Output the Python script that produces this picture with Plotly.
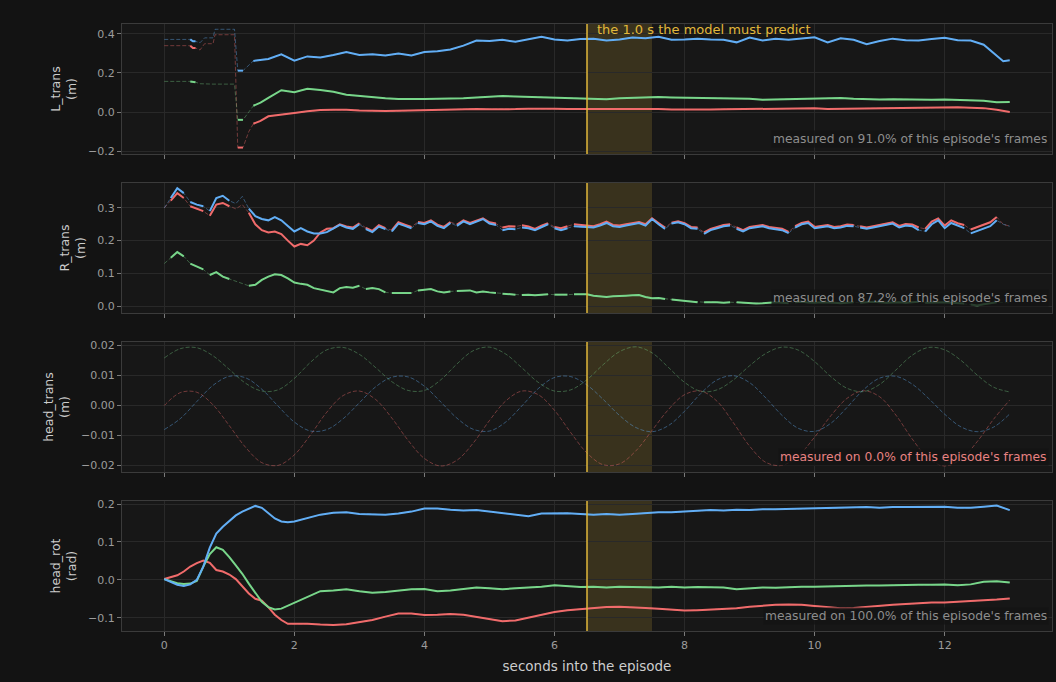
import plotly.graph_objects as go
from plotly.subplots import make_subplots

# ---------------- data ----------------
# Panel 1: L_trans (m)
T1 = [0.0, 0.40, 0.44, 0.48, 0.55, 0.62, 0.75, 0.78, 1.08, 1.13, 1.17, 1.21, 1.30, 1.37, 1.48,
      1.6, 1.8, 2.0, 2.2, 2.4, 2.6, 2.8, 3.0, 3.2, 3.4, 3.6, 3.8, 4.0, 4.2, 4.4, 4.6, 4.8,
      5.0, 5.2, 5.4, 5.6, 5.8, 6.0, 6.2, 6.4, 6.6, 6.8, 7.0, 7.2, 7.4, 7.6, 7.8, 8.0, 8.2,
      8.4, 8.6, 8.8, 9.0, 9.2, 9.4, 9.6, 9.8, 10.0, 10.2, 10.4, 10.6, 10.8, 11.0, 11.2,
      11.4, 11.6, 11.8, 12.0, 12.2, 12.4, 12.6, 12.8, 12.9, 13.0]
L_X = [0.34, 0.34, 0.328, 0.328, 0.318, 0.35, 0.35, 0.396, 0.396, -0.182, -0.182, -0.182, -0.10, -0.06, -0.045,
       -0.022, -0.012, -0.005, 0.004, 0.01, 0.012, 0.012, 0.008, 0.006, 0.005, 0.006, 0.008, 0.01, 0.012,
       0.015, 0.017, 0.016, 0.014, 0.013, 0.015, 0.017, 0.018, 0.017, 0.016, 0.017, 0.016, 0.015, 0.016,
       0.016, 0.017, 0.016, 0.013, 0.012, 0.012, 0.013, 0.014, 0.015, 0.016, 0.016, 0.017, 0.018, 0.018,
       0.019, 0.016, 0.017, 0.018, 0.019, 0.02, 0.02, 0.021, 0.022, 0.024, 0.026, 0.024, 0.022, 0.02,
       0.012, 0.006, 0.0]
L_Y = [0.157, 0.157, 0.153, 0.153, 0.145, 0.143, 0.143, 0.143, 0.143, -0.04, -0.04, -0.04, 0.0, 0.032, 0.048,
       0.072, 0.112, 0.102, 0.119, 0.113, 0.104, 0.089, 0.082, 0.074, 0.07, 0.067, 0.066, 0.067, 0.068,
       0.068, 0.07, 0.075, 0.078, 0.082, 0.08, 0.078, 0.075, 0.072, 0.07, 0.068, 0.068, 0.066, 0.07,
       0.072, 0.075, 0.077, 0.075, 0.074, 0.073, 0.072, 0.072, 0.072, 0.068, 0.063, 0.064, 0.066, 0.067,
       0.068, 0.071, 0.072, 0.068, 0.066, 0.064, 0.066, 0.064, 0.062, 0.063, 0.064, 0.062, 0.062, 0.058,
       0.05, 0.049, 0.051]
L_Z = [0.372, 0.372, 0.362, 0.362, 0.355, 0.38, 0.38, 0.424, 0.424, 0.212, 0.212, 0.212, 0.24, 0.262, 0.268,
       0.272, 0.296, 0.263, 0.285, 0.28, 0.292, 0.307, 0.292, 0.296, 0.29, 0.30, 0.29, 0.308, 0.312,
       0.32, 0.34, 0.366, 0.364, 0.37, 0.36, 0.372, 0.386, 0.372, 0.366, 0.374, 0.376, 0.366, 0.372,
       0.382, 0.378, 0.386, 0.37, 0.372, 0.376, 0.372, 0.37, 0.357, 0.382, 0.366, 0.376, 0.37, 0.378,
       0.383, 0.357, 0.378, 0.37, 0.347, 0.364, 0.376, 0.368, 0.366, 0.374, 0.38, 0.368, 0.366, 0.345,
       0.285, 0.26, 0.265]
L_GAPS = [(0.0, 0.40), (0.48, 1.13), (1.21, 1.37)]
L_PCT = 91.0

# Panel 2: R_trans (m), one frame every 0.1 s
T2 = [round(0.1 * i, 1) for i in range(131)]
R_X = [0.300, 0.322, 0.345, 0.330, 0.305, 0.297, 0.290, 0.276, 0.310, 0.315,
       0.305, 0.297, 0.310, 0.285, 0.250, 0.232, 0.225, 0.228, 0.220, 0.200,
       0.182, 0.190, 0.186, 0.200, 0.225, 0.236, 0.238, 0.250, 0.243, 0.240,
       0.253, 0.239, 0.230, 0.247, 0.238, 0.232, 0.256, 0.249, 0.242, 0.257,
       0.254, 0.262, 0.249, 0.242, 0.257, 0.249, 0.262, 0.254, 0.261, 0.268,
       0.256, 0.252, 0.240, 0.244, 0.243, 0.247, 0.243, 0.236, 0.246, 0.253,
       0.242, 0.238, 0.244, 0.250, 0.248, 0.246, 0.244, 0.250, 0.258, 0.248,
       0.246, 0.250, 0.254, 0.257, 0.250, 0.268, 0.254, 0.240, 0.255, 0.259,
       0.253, 0.242, 0.240, 0.225, 0.236, 0.242, 0.248, 0.250, 0.240, 0.232,
       0.242, 0.245, 0.248, 0.242, 0.238, 0.236, 0.227, 0.244, 0.254, 0.258,
       0.242, 0.245, 0.248, 0.242, 0.244, 0.249, 0.248, 0.244, 0.240, 0.244,
       0.248, 0.253, 0.256, 0.245, 0.251, 0.249, 0.240, 0.236, 0.258, 0.268,
       0.246, 0.262, 0.253, 0.248, 0.234, 0.242, 0.250, 0.256, 0.272, 0.250,
       0.244]
R_Y = [0.130, 0.148, 0.165, 0.152, 0.130, 0.120, 0.112, 0.095, 0.104, 0.090,
       0.083, 0.075, 0.068, 0.062, 0.065, 0.080, 0.090, 0.097, 0.095, 0.085,
       0.072, 0.068, 0.065, 0.055, 0.050, 0.046, 0.042, 0.055, 0.058, 0.056,
       0.062, 0.052, 0.055, 0.052, 0.042, 0.040, 0.040, 0.042, 0.040, 0.048,
       0.050, 0.052, 0.045, 0.042, 0.045, 0.046, 0.048, 0.048, 0.042, 0.045,
       0.042, 0.040, 0.038, 0.036, 0.035, 0.034, 0.035, 0.033, 0.034, 0.036,
       0.035, 0.034, 0.035, 0.036, 0.036, 0.036, 0.032, 0.030, 0.028, 0.030,
       0.030, 0.032, 0.033, 0.034, 0.028, 0.024, 0.025, 0.022, 0.020, 0.018,
       0.016, 0.014, 0.012, 0.012, 0.013, 0.012, 0.010, 0.012, 0.012, 0.010,
       0.009, 0.008, 0.009, 0.011, 0.012, 0.010, 0.009, 0.012, 0.013, 0.011,
       0.010, 0.012, 0.012, 0.010, 0.009, 0.011, 0.012, 0.010, 0.012, 0.013,
       0.012, 0.010, 0.011, 0.012, 0.010, 0.012, 0.013, 0.010, 0.011, 0.013,
       0.012, 0.010, 0.009, 0.008, 0.005, 0.002, 0.006, 0.010, 0.012, 0.011,
       0.010]
R_Z = [0.300, 0.330, 0.360, 0.345, 0.318, 0.310, 0.305, 0.290, 0.330, 0.337,
       0.322, 0.313, 0.335, 0.298, 0.275, 0.266, 0.262, 0.272, 0.262, 0.245,
       0.228, 0.238, 0.228, 0.222, 0.222, 0.226, 0.236, 0.248, 0.240, 0.236,
       0.250, 0.235, 0.226, 0.243, 0.235, 0.228, 0.252, 0.245, 0.238, 0.254,
       0.250, 0.259, 0.245, 0.238, 0.254, 0.245, 0.259, 0.250, 0.258, 0.266,
       0.252, 0.248, 0.232, 0.236, 0.235, 0.240, 0.238, 0.232, 0.242, 0.250,
       0.238, 0.232, 0.238, 0.244, 0.242, 0.242, 0.240, 0.246, 0.254, 0.244,
       0.242, 0.246, 0.250, 0.254, 0.246, 0.266, 0.250, 0.236, 0.252, 0.256,
       0.250, 0.238, 0.236, 0.221, 0.232, 0.238, 0.244, 0.246, 0.236, 0.228,
       0.238, 0.241, 0.244, 0.238, 0.234, 0.232, 0.223, 0.240, 0.250, 0.254,
       0.238, 0.241, 0.244, 0.238, 0.240, 0.245, 0.244, 0.240, 0.236, 0.240,
       0.244, 0.249, 0.252, 0.240, 0.246, 0.244, 0.232, 0.228, 0.250, 0.262,
       0.238, 0.254, 0.245, 0.238, 0.222, 0.230, 0.238, 0.244, 0.262, 0.250,
       0.244]
R_GAP_STARTS = [0.0, 0.3, 0.6, 1.0, 1.1, 1.2, 3.0, 3.4, 3.8, 4.4, 5.1, 5.4, 5.9, 6.2,
                7.7, 8.2, 8.7, 9.6, 10.6, 11.6, 12.3, 12.8, 12.9]
R_PCT = 87.2

# Panel 3: head_trans (m), never measured
T3 = [round(0.25 * i, 2) for i in range(53)]
H_X = [-0.0001, 0.0042, 0.0043, 0.0001, -0.0068, -0.0140, -0.0191, -0.0200, -0.0165, -0.0098,
       -0.0023, 0.0032, 0.0047, 0.0019, -0.0043, -0.0117, -0.0177, -0.0202, -0.0183, -0.0126,
       -0.0051, 0.0014, 0.0047, 0.0035, -0.0017, -0.0091, -0.0159, -0.0198, -0.0195, -0.0152,
       -0.0084, -0.0015, 0.0035, 0.0047, 0.0013, -0.0058, -0.0136, -0.0190, -0.0200, -0.0168,
       -0.0106, -0.0035, 0.0023, 0.0048, 0.0028, -0.0033, -0.0112, -0.0177, -0.0202, -0.0180,
       -0.0121, -0.0047, 0.0017]
H_Y = [0.0157, 0.0188, 0.0191, 0.0164, 0.0119, 0.0073, 0.0047, 0.0051, 0.0089, 0.0143,
       0.0184, 0.0192, 0.0169, 0.0125, 0.0078, 0.0049, 0.0049, 0.0084, 0.0137, 0.0181,
       0.0193, 0.0170, 0.0124, 0.0076, 0.0047, 0.0051, 0.0085, 0.0135, 0.0178, 0.0194,
       0.0174, 0.0126, 0.0076, 0.0046, 0.0051, 0.0084, 0.0131, 0.0172, 0.0193, 0.0183,
       0.0145, 0.0095, 0.0056, 0.0045, 0.0069, 0.0117, 0.0166, 0.0192, 0.0184, 0.0149,
       0.0100, 0.0060, 0.0044]
H_Z = [-0.0081, -0.0044, 0.0012, 0.0066, 0.0096, 0.0091, 0.0053, -0.0003, -0.0056, -0.0086,
       -0.0081, -0.0045, 0.0008, 0.0061, 0.0093, 0.0094, 0.0063, 0.0011, -0.0043, -0.0080,
       -0.0086, -0.0056, -0.0002, 0.0055, 0.0092, 0.0095, 0.0067, 0.0019, -0.0034, -0.0074,
       -0.0088, -0.0068, -0.0020, 0.0039, 0.0084, 0.0098, 0.0075, 0.0024, -0.0034, -0.0077,
       -0.0087, -0.0060, -0.0007, 0.0051, 0.0090, 0.0096, 0.0070, 0.0023, -0.0030, -0.0072,
       -0.0088, -0.0073, -0.0029]
H_GAPS = [(0.0, 13.0)]
H_PCT = 0.0

# Panel 4: head_rot (rad)
T4 = [round(0.1 * i, 1) for i in range(21)] + [round(2.2 + 0.2 * i, 1) for i in range(55)]
O_X = [0.002, 0.007, 0.012, 0.022, 0.035, 0.044, 0.051, 0.045, 0.026, 0.022, 0.014,
       0.002, -0.016, -0.036, -0.050, -0.055, -0.072, -0.092, -0.106, -0.116, -0.116,
       -0.116, -0.118, -0.119, -0.117, -0.112, -0.106, -0.097, -0.089, -0.089, -0.093,
       -0.092, -0.090, -0.092, -0.097, -0.103, -0.109, -0.107, -0.100, -0.092, -0.085,
       -0.080, -0.077, -0.074, -0.072, -0.071, -0.072, -0.074, -0.076, -0.079, -0.081,
       -0.080, -0.078, -0.076, -0.075, -0.071, -0.068, -0.066, -0.065, -0.066, -0.069,
       -0.073, -0.075, -0.074, -0.071, -0.068, -0.066, -0.064, -0.062, -0.060, -0.060,
       -0.058, -0.057, -0.055, -0.052, -0.049]
O_Y = [0.002, -0.004, -0.009, -0.011, -0.010, -0.003, 0.035, 0.068, 0.086, 0.079, 0.060,
       0.038, 0.016, -0.010, -0.035, -0.058, -0.072, -0.078, -0.076, -0.068, -0.060,
       -0.045, -0.030, -0.028, -0.025, -0.030, -0.034, -0.032, -0.028, -0.025, -0.024,
       -0.030, -0.028, -0.024, -0.020, -0.022, -0.025, -0.022, -0.020, -0.018, -0.014,
       -0.017, -0.019, -0.018, -0.020, -0.018, -0.019, -0.018, -0.020, -0.018, -0.020,
       -0.019, -0.020, -0.020, -0.025, -0.022, -0.020, -0.021, -0.019, -0.018, -0.018,
       -0.017, -0.016, -0.016, -0.015, -0.015, -0.014, -0.014, -0.013, -0.013, -0.012,
       -0.014, -0.012, -0.005, -0.004, -0.007]
O_Z = [0.002, -0.006, -0.013, -0.016, -0.012, 0.0, 0.035, 0.085, 0.122, 0.140, 0.155,
       0.170, 0.180, 0.188, 0.195, 0.190, 0.176, 0.162, 0.154, 0.152, 0.154,
       0.164, 0.172, 0.177, 0.178, 0.174, 0.173, 0.172, 0.175, 0.180, 0.188,
       0.188, 0.185, 0.183, 0.184, 0.180, 0.177, 0.172, 0.168, 0.175, 0.175,
       0.176, 0.174, 0.172, 0.174, 0.172, 0.174, 0.176, 0.178, 0.178, 0.180,
       0.181, 0.184, 0.183, 0.185, 0.184, 0.186, 0.186, 0.187, 0.187, 0.189,
       0.190, 0.190, 0.191, 0.192, 0.190, 0.192, 0.192, 0.193, 0.192, 0.193,
       0.190, 0.190, 0.193, 0.196, 0.184]
O_GAPS = []
O_PCT = 100.0

Y_TITLES = ["L_trans<br>(m)", "R_trans<br>(m)", "head_trans<br>(m)", "head_rot<br>(rad)"]
Y_RANGES = [[-0.215, 0.451], [-0.021, 0.376], [-0.0222, 0.021], [-0.135, 0.208]]
Y_TICKS = [[-0.2, 0.0, 0.2, 0.4], [0.0, 0.1, 0.2, 0.3],
           [-0.02, -0.01, 0.0, 0.01, 0.02], [-0.1, 0.0, 0.1, 0.2]]
Y_FORMATS = [".1f", ".1f", ".2f", ".1f"]
X_TICKS = [0, 2, 4, 6, 8, 10, 12]
PREDICT_START, PREDICT_LEN = 6.5, 1.0

# ---------------- styling ----------------
W, H = 1056, 682
ML, MR, MT, MB = 122, 4, 24, 51
GAP_PX = 29
PAPER = "#131313"
PLOT_BG = "#171717"
GRID = "#292929"
FRAME = "#3b3b3b"
TICK_TXT = "#9c9c9c"
TITLE_TXT = "#cdcdcd"
GOLD = "#e2b93b"
FONT = "DejaVu Sans"
COLORS = {"x": "#f06b6b", "y": "#78d68a", "z": "#62aef5"}
FAINT = {"x": "rgba(240,107,107,0.42)", "y": "rgba(120,214,138,0.38)", "z": "rgba(98,174,245,0.42)"}


def seg_is_gap(a, b, gaps):
    return any(g0 - 1e-9 <= a and b <= g1 + 1e-9 for g0, g1 in gaps)


def solid_path(t, v, gaps):
    xs, ys = [], []
    for i in range(len(t) - 1):
        a, b = t[i], t[i + 1]
        if seg_is_gap(a, b, gaps):
            if xs and xs[-1] is not None:
                xs.append(None)
                ys.append(None)
            continue
        if not xs or xs[-1] is None or xs[-1] != a:
            xs.append(a)
            ys.append(v[i])
        xs.append(b)
        ys.append(v[i + 1])
    return xs, ys


panels = [
    (T1, {"x": L_X, "y": L_Y, "z": L_Z}, L_GAPS, L_PCT, "linear"),
    (T2, {"x": R_X, "y": R_Y, "z": R_Z}, [(s, round(s + 0.1, 1)) for s in R_GAP_STARTS], R_PCT, "linear"),
    (T3, {"x": H_X, "y": H_Y, "z": H_Z}, H_GAPS, H_PCT, "spline"),
    (T4, {"x": O_X, "y": O_Y, "z": O_Z}, O_GAPS, O_PCT, "linear"),
]

plot_h = H - MT - MB
fig = make_subplots(rows=4, cols=1, shared_xaxes=True, vertical_spacing=GAP_PX / plot_h)

for r, (t, series, gaps, pct, shape) in enumerate(panels, start=1):
    for key in ["x", "y", "z"]:
        v = series[key]
        fig.add_trace(go.Scatter(x=t, y=v, mode="lines", line=dict(color=FAINT[key], width=1, dash="4px,2px", shape=shape),
                                 hoverinfo="skip", showlegend=False), row=r, col=1)
        sx, sy = solid_path(t, v, gaps)
        if sx:
            fig.add_trace(go.Scatter(x=sx, y=sy, mode="lines", line=dict(color=COLORS[key], width=2),
                                     connectgaps=False, showlegend=False), row=r, col=1)
    xref = "x" if r == 1 else f"x{r}"
    yref = "y" if r == 1 else f"y{r}"
    fig.add_annotation(xref=f"{xref} domain", yref=f"{yref} domain", x=0.9965, y=0.118,
                       xanchor="right", yanchor="middle", showarrow=False,
                       text=f"measured on {pct:.1f}% of this episode's frames",
                       font=dict(family=FONT, size=12.3, color="#e88282" if pct == 0 else "#8d8d8d"),
                       bgcolor="rgba(19,19,19,0.78)", borderpad=1)
    fig.update_yaxes(row=r, col=1, range=Y_RANGES[r - 1], tickvals=Y_TICKS[r - 1], tickformat=Y_FORMATS[r - 1],
                     title=dict(text=Y_TITLES[r - 1], font=dict(family=FONT, size=12.5, color=TITLE_TXT), standoff=8),
                     showgrid=True, gridcolor=GRID, gridwidth=1, zeroline=False,
                     ticks="outside", ticklen=4, tickcolor="#7a7a7a", tickwidth=1,
                     showline=True, mirror=True, linecolor=FRAME, linewidth=1,
                     tickfont=dict(family=FONT, size=11, color=TICK_TXT))
    fig.update_xaxes(row=r, col=1, range=[-0.65, 13.65], tickvals=X_TICKS,
                     showgrid=True, gridcolor=GRID, gridwidth=1, zeroline=False,
                     ticks="outside", ticklen=4, tickcolor="#7a7a7a", tickwidth=1,
                     showline=True, mirror=True, linecolor=FRAME, linewidth=1,
                     tickfont=dict(family=FONT, size=11, color=TICK_TXT))
    fig.add_vrect(x0=PREDICT_START, x1=PREDICT_START + PREDICT_LEN, row=r, col=1,
                  fillcolor="rgba(226,185,59,0.17)", line_width=0, layer="below")
    fig.add_vline(x=PREDICT_START, row=r, col=1, line=dict(color=GOLD, width=1.5), layer="above")

fig.update_xaxes(row=4, col=1, title=dict(text="seconds into the episode",
                                          font=dict(family=FONT, size=13.5, color=TITLE_TXT), standoff=10))

fig.add_annotation(xref="x", yref="y domain", x=PREDICT_START + 0.12, y=0.955, xanchor="left", yanchor="middle",
                   showarrow=False, text=f"the {PREDICT_LEN:.1f} s the model must predict",
                   font=dict(family=FONT, size=13, color=GOLD))

fig.update_layout(width=W, height=H, margin=dict(l=ML, r=MR, t=MT, b=MB),
                  paper_bgcolor=PAPER, plot_bgcolor=PLOT_BG, showlegend=False,
                  font=dict(family=FONT, color=TICK_TXT))

fig.write_html("out.html", config={"displayModeBar": False},
               post_script="document.body.style.margin='0';document.body.style.background='" + PAPER + "';")
